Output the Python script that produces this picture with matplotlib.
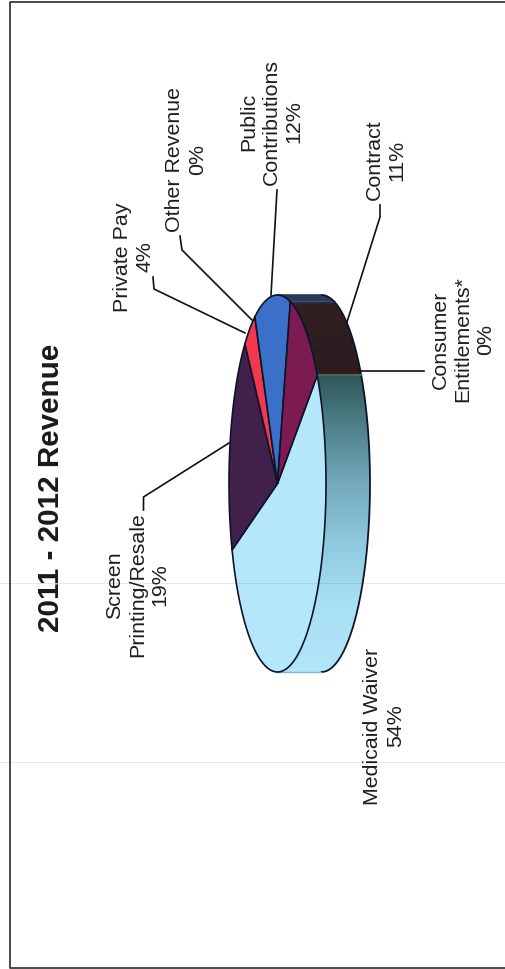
import numpy as np
import matplotlib
matplotlib.use('Agg')
import matplotlib.pyplot as plt
from matplotlib.colors import LinearSegmentedColormap
from matplotlib.patches import PathPatch, Polygon
from matplotlib.path import Path

plt.rcParams['font.family'] = ['Liberation Sans', 'DejaVu Sans']

# Revenue shares, clockwise from the first slice
categories = ['Medicaid Waiver', 'Screen\nPrinting/Resale', 'Private Pay', 'Other Revenue',
              'Public\nContributions', 'Contract', 'Consumer\nEntitlements*']
shares = [54, 19, 4, 0, 12, 11, 0]
top_colors = ['#b5e7fb', '#41204b', '#f2384e', '#3a70c8', '#3a70c8', '#7c1a52', '#4a6a50']
title = '2011 - 2012 Revenue'

# The page is a scan turned on its side, so axes run in page pixels
W, H = 506, 969
fig = plt.figure(figsize=(W / 100, H / 100), dpi=100)
ax = fig.add_axes([0, 0, 1, 1])
ax.set_xlim(0, W)
ax.set_ylim(H, 0)
ax.axis('off')

# Pie geometry
cx, cy = 277.5, 483.5
rx, ry = 48.5, 188.5
depth = 44
start = 35.0
EDGE = '#0e1428'


def rim(a0, a1, shift=0.0):
    phi = np.radians(np.linspace(a0, a1, 200))
    return np.column_stack([cx + shift + rx * np.cos(phi), cy - ry * np.sin(phi)])


# Page frame
ax.plot([W, 10, 10, W], [1.5, 1.5, 968, 968], color='#3c3c3c', lw=1.3, zorder=1)

# Cumulative angles, going clockwise
angles = start - np.cumsum([0] + shares) * 3.6

# Outer wall of the slices on the visible side
wall_stops = {
    5: [(298, '#2f2a3c'), (308, '#30201f'), (375, '#2c1b20')],
    4: [(293, '#2b3a5e'), (304, '#2b3a5e')],
    0: [(371, '#2c5458'), (420, '#4b7c84'), (480, '#72a8ba'), (547, '#90cbe0'), (600, '#a8dff4'), (674, '#b2e6f9')],
}
for i, stops in wall_stops.items():
    # bring the slice's angles round to the front half, -90 to 90
    turn = 360 if angles[i] < -180 else 0
    a0 = min(angles[i] + turn, 90)
    a1 = max(angles[i + 1] + turn, -90)
    outline = np.vstack([rim(a0, a1), rim(a1, a0, depth)])
    y0, y1 = stops[0][0], stops[-1][0]
    cmap = LinearSegmentedColormap.from_list('wall', [((y - y0) / (y1 - y0), c) for y, c in stops])
    img = ax.imshow(np.linspace(0, 1, 256)[:, None], cmap=cmap, aspect='auto',
                    extent=[cx - 10, cx + rx + depth + 10, y1, y0], zorder=2)
    patch = PathPatch(Path(outline), transform=ax.transData, fc='none', ec='none')
    ax.add_patch(patch)
    img.set_clip_path(patch)
    ax.plot(*rim(a0, a1, depth).T, color=EDGE, lw=1.3, zorder=3)
ax.set_xlim(0, W)
ax.set_ylim(H, 0)

# Flat silhouette ends of the wall and the zero slice seen edge-on
ax.plot([cx, cx + depth], [cy - ry, cy - ry], color='#2b3a5e', lw=1.2, zorder=3)
ax.plot([cx, cx + depth], [cy + ry, cy + ry], color='#7fb4c8', lw=1.0, zorder=3)
edge_y = cy - ry * np.sin(np.radians(angles[-1]))
edge_x = cx + rx * np.cos(np.radians(angles[-1]))
ax.plot([edge_x, edge_x + depth], [edge_y, edge_y], color='#4a6a50', lw=1.6, zorder=3)
# Seam where the public contributions wall meets the contract wall
seam_y = cy - ry * np.sin(np.radians(angles[5] + 360))
seam_x = cx + rx * np.cos(np.radians(angles[5] + 360))
ax.plot([seam_x, seam_x + depth], [seam_y, seam_y], color='#2b2d45', lw=1.0, zorder=3)

# Top face of the slices
for i, color in enumerate(top_colors):
    if shares[i] == 0:
        continue
    outline = np.vstack([[cx, cy], rim(angles[i], angles[i + 1])])
    ax.add_patch(Polygon(outline, closed=True, fc=color, ec=EDGE, lw=1.2, joinstyle='round', zorder=4))

# Faint horizontal scan streaks over the page
for y in (583, 762):
    ax.plot([0, W], [y, y], color='black', alpha=0.09, lw=0.7, zorder=4.5)

# Leader lines, page pixels
leaders = [
    [(229, 443), (143.5, 497), (143.5, 510)],
    [(245, 333), (154, 289), (153, 277)],
    [(252, 320), (182, 250), (180, 236)],
    [(271, 295), (277, 190)],
    [(347, 322), (380, 217), (380, 205)],
    [(360, 371), (424, 371)],
]
for pts in leaders:
    xs, ys = zip(*pts)
    ax.plot(xs, ys, color='#111111', lw=1.2, zorder=3)

# Category labels: centre of each text block
label_pos = [(384, 726), (137.5, 585), (134, 257), (186, 159), (271, 122), (386, 160), (463, 339.5)]
for name, value, (x, y) in zip(categories, shares, label_pos):
    ax.text(x, y, f'{name}\n{value}%', rotation=90, ha='center', va='center', multialignment='center',
            fontsize=15.4, color='#1e1e1e', linespacing=1.24, zorder=5)

ax.text(51.5, 487.5, title, rotation=90, ha='center', va='center', fontsize=21.3,
        fontweight='bold', color='#1a1a1a', zorder=5)

fig.savefig('out.png', dpi=100)
